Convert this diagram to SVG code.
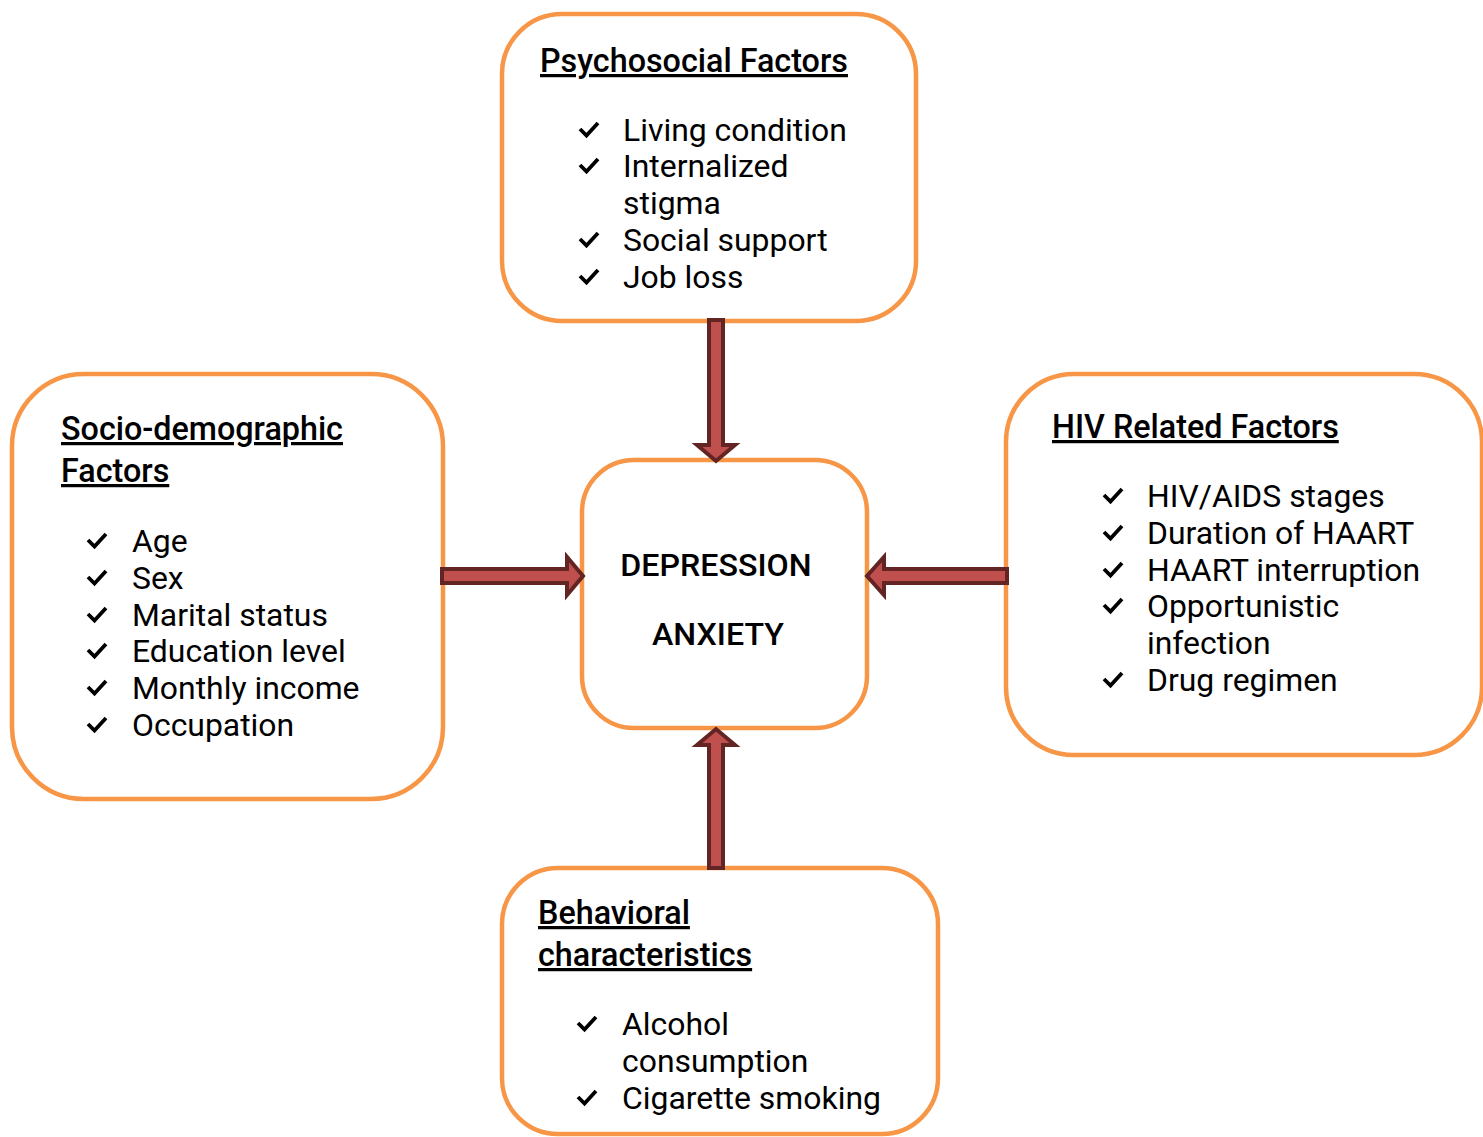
<svg xmlns="http://www.w3.org/2000/svg" width="1483" height="1137" viewBox="0 0 1483 1137">
<defs>
<style>
.box{fill:#fff;stroke:#F79646;stroke-width:4.5}
.arr{fill:#C0504D;stroke:#632523;stroke-width:4;stroke-linejoin:miter}
.h{font-family:Roboto,"Liberation Sans",sans-serif;font-size:32.3px;font-weight:500;fill:#000;text-decoration:underline}
.t{font-family:Roboto,"Liberation Sans",sans-serif;font-size:31.9px;fill:#000}
.c{font-family:Roboto,"Liberation Sans",sans-serif;font-size:32.2px;font-weight:500;fill:#000;text-anchor:middle}
.ck{fill:none;stroke:#000;stroke-width:3.8;stroke-linecap:butt;stroke-linejoin:miter}
</style>
<path id="chk" class="ck" d="M0,0 L6.5,6.5 L18,-6"/>
</defs>
<rect width="1483" height="1137" fill="#fff"/>

<g id="node-psychosocial">
<rect class="box" x="502" y="14" width="414" height="307" rx="60"/>
<text class="h" x="540" y="72">Psychosocial Factors</text>
<use href="#chk" x="580" y="129"/>
<text class="t" x="623" y="141">Living condition</text>
<use href="#chk" x="580" y="165"/>
<text class="t" x="623" y="177">Internalized</text>
<text class="t" x="623" y="214">stigma</text>
<use href="#chk" x="580" y="239"/>
<text class="t" x="623" y="251">Social support</text>
<use href="#chk" x="580" y="276"/>
<text class="t" x="623" y="288">Job loss</text>
</g>

<g id="node-sociodemographic">
<rect class="box" x="12" y="374" width="431" height="425" rx="72"/>
<text class="h" x="61" y="440">Socio-demographic</text>
<text class="h" x="61" y="482">Factors</text>
<use href="#chk" x="88" y="540"/>
<text class="t" x="132" y="552">Age</text>
<use href="#chk" x="88" y="577"/>
<text class="t" x="132" y="589">Sex</text>
<use href="#chk" x="88" y="614"/>
<text class="t" x="132" y="626">Marital status</text>
<use href="#chk" x="88" y="650"/>
<text class="t" x="132" y="662">Education level</text>
<use href="#chk" x="88" y="687"/>
<text class="t" x="132" y="699">Monthly income</text>
<use href="#chk" x="88" y="724"/>
<text class="t" x="132" y="736">Occupation</text>
</g>

<g id="node-hiv">
<rect class="box" x="1006" y="374" width="476" height="381" rx="68"/>
<text class="h" x="1052" y="438">HIV Related Factors</text>
<use href="#chk" x="1104" y="495"/>
<text class="t" x="1147" y="507">HIV/AIDS stages</text>
<use href="#chk" x="1104" y="532"/>
<text class="t" x="1147" y="544">Duration of HAART</text>
<use href="#chk" x="1104" y="569"/>
<text class="t" x="1147" y="581">HAART interruption</text>
<use href="#chk" x="1104" y="605"/>
<text class="t" x="1147" y="617">Opportunistic</text>
<text class="t" x="1147" y="654">infection</text>
<use href="#chk" x="1104" y="679"/>
<text class="t" x="1147" y="691">Drug regimen</text>
</g>

<g id="node-behavioral">
<rect class="box" x="502" y="868" width="436" height="266" rx="56"/>
<text class="h" x="538" y="924">Behavioral</text>
<text class="h" x="538" y="966">characteristics</text>
<use href="#chk" x="578" y="1023"/>
<text class="t" x="622" y="1035">Alcohol</text>
<text class="t" x="622" y="1072">consumption</text>
<use href="#chk" x="578" y="1097"/>
<text class="t" x="622" y="1109">Cigarette smoking</text>
</g>

<g id="node-center">
<rect class="box" x="582" y="460" width="285" height="268" rx="52"/>
<text class="c" x="716" y="576">DEPRESSION</text>
<text class="c" x="718" y="645">ANXIETY</text>
</g>

<g id="connectors">
<polygon class="arr" points="709,320 723,320 723,445 735,445 716,461 697,445 709,445"/>
<polygon class="arr" points="709,868 723,868 723,745 735,745 716,729 697,745 709,745"/>
<polygon class="arr" points="442,569 567,569 567,557 583,576 567,595 567,583 442,583"/>
<polygon class="arr" points="1007,569 884,569 884,557 867,576 884,595 884,583 1007,583"/>
</g>
</svg>
